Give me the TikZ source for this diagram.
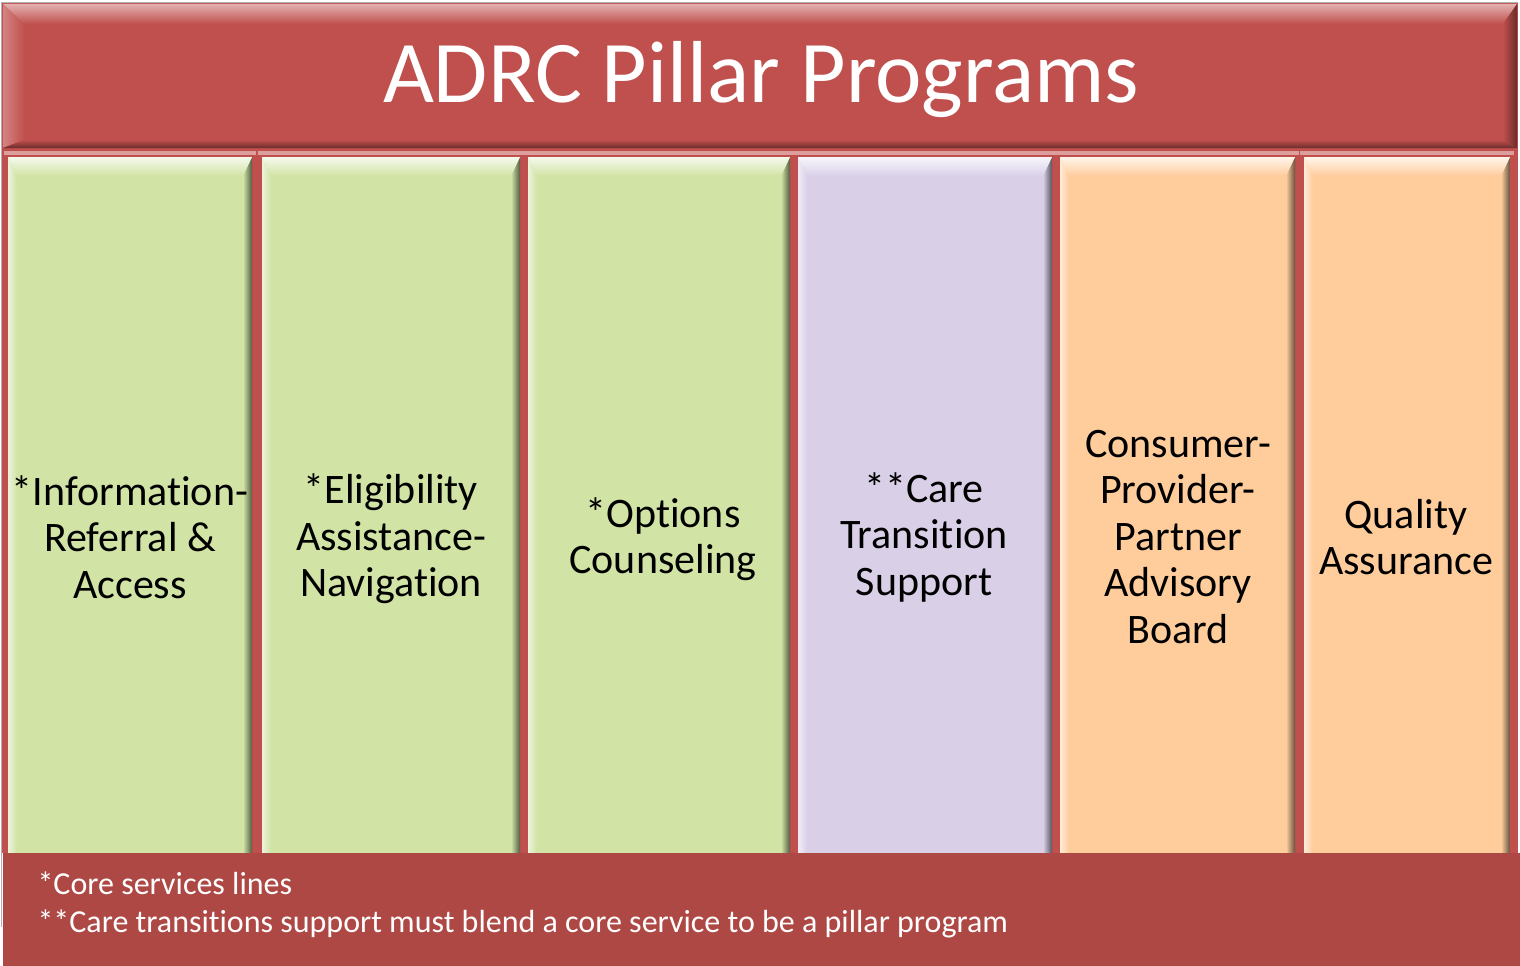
\documentclass[tikz,border=0pt]{standalone}
\usepackage{fontspec}
\setmainfont{Carlito}[Ligatures={NoCommon,NoContextual}]

\definecolor{adrcred}{HTML}{C0504D}
\definecolor{footred}{HTML}{AE4845}
\definecolor{pgreen}{HTML}{D1E3A5}
\definecolor{plilac}{HTML}{D9D0E8}
\definecolor{porange}{HTML}{FFCC9C}

\tikzset{
  pillartext/.style={align=center, text=black, font=\fontsize{42}{46.5}\selectfont},
  titletext/.style={text=white, font=\fontsize{88}{100}\selectfont},
  foottext/.style={text=white, anchor=base west, font=\fontsize{32}{38}\selectfont}
}

\begin{document}
\begin{tikzpicture}[x=1pt,y=-1pt]
\useasboundingbox (0,0) rectangle (1520,966);

% Title bar
\fill[adrcred] (2,3) rectangle (1518,853);
\draw[gray!60, line width=1] (1.5,2.5) -- (1518,2.5);
\draw[gray!60, line width=1] (1.5,2.5) -- (1.5,927);
\shade[top color=adrcred!45!white, bottom color=adrcred] (3,4) -- (1517,4) -- (1503,24) -- (24,24) -- cycle;
\shade[left color=adrcred!70!white, right color=adrcred] (3,4) -- (24,24) -- (24,140) -- (3,148) -- cycle;
\shade[top color=adrcred, bottom color=adrcred!55!black] (3,148) -- (24,140) -- (1503,140) -- (1517,148) -- cycle;
\shade[left color=adrcred, right color=adrcred!55!black] (1517,4) -- (1517,148) -- (1503,140) -- (1503,24) -- cycle;
\node[titletext, anchor=base] (title) at (761,102) {ADRC Pillar Programs};

% Pillars
\foreach \xa/\xb/\col in {8/252/pgreen, 262/520/pgreen, 528/790/pgreen, 798/1052/plilac, 1060/1295/porange, 1304/1510/porange} {
  \fill[adrcred!55!white] (\xa-4,151) rectangle (\xb+4,155);
  \fill[\col] (\xa,157) rectangle (\xb,853);
  \shade[left color=\col!40!white, right color=\col] (\xa,157) -- (\xa+9,176) -- (\xa+9,853) -- (\xa,853) -- cycle;
  \shade[left color=\col, right color=\col!40!black] (\xb,157) -- (\xb,853) -- (\xb-9,853) -- (\xb-9,176) -- cycle;
  \shade[top color=\col!20!white, bottom color=\col] (\xa,157) -- (\xb,157) -- (\xb-9,176) -- (\xa+9,176) -- cycle;
}

% Pillar labels
\node[pillartext] (info)     at (130,537)  {*Information-\\Referral \&\\Access};
\node[pillartext] (elig)     at (391,539)  {*Eligibility\\Assistance-\\Navigation};
\node[pillartext] (options)  at (663,539)  {*Options\\Counseling};
\node[pillartext] (care)     at (924,537)  {**Care\\Transition\\Support};
\node[pillartext] (advisory) at (1178,537) {Consumer-\\Provider-\\Partner\\Advisory\\Board};
\node[pillartext] (quality)  at (1406,537) {Quality\\Assurance};

% Footnotes
\fill[footred] (3,853) rectangle (1520,966);
\node[foottext] (core)  at (34,894) {*Core services lines};
\node[foottext] (blend) at (34,932) {**Care transitions support must blend a core service to be a pillar program};
\end{tikzpicture}
\end{document}
